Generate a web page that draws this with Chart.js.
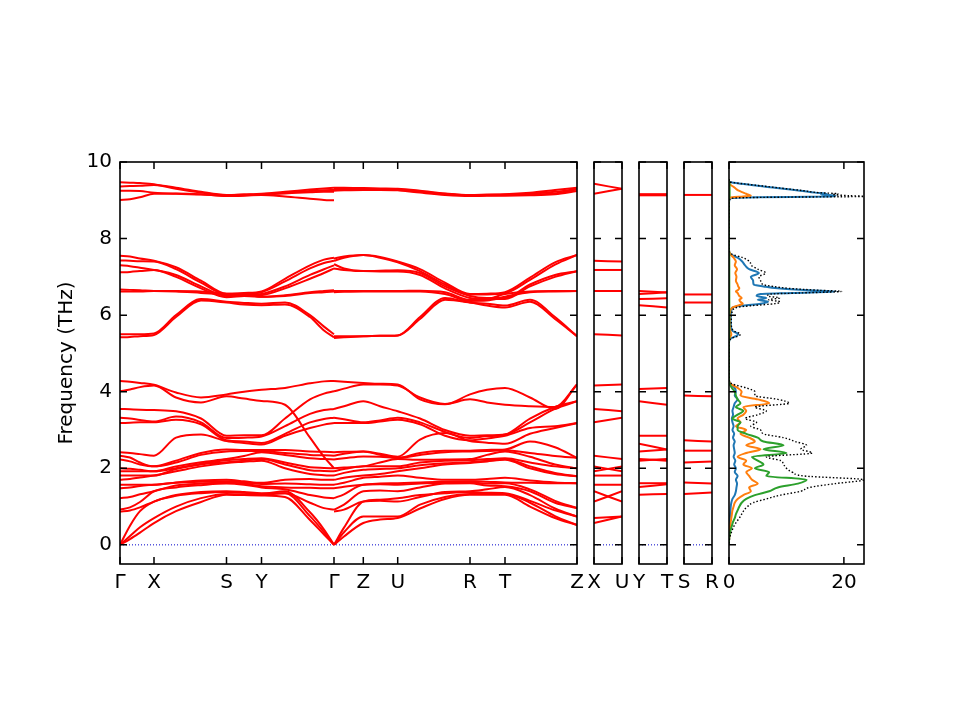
<!DOCTYPE html>
<html>
<head>
<meta charset="utf-8">
<script src="https://cdn.jsdelivr.net/npm/chart.js@4.4.1/dist/chart.umd.min.js"></script>
<style>
  html, body { margin: 0; padding: 0; background: #fff; }
  #wrap { position: relative; width: 960px; height: 720px; }
  #wrap canvas { position: absolute; left: 0; top: 0; }
</style>
</head>
<body>
<div id="wrap">
  <canvas id="bands" width="960" height="720"></canvas>
  <canvas id="xu" width="960" height="720"></canvas>
  <canvas id="yt" width="960" height="720"></canvas>
  <canvas id="sr" width="960" height="720"></canvas>
  <canvas id="dos" width="960" height="720"></canvas>
</div>
<script>
// ---- data ----
const freqTicks = [0, 2, 4, 6, 8, 10];
const kLabels = ['Γ', 'X', 'S', 'Y', 'Γ', 'Z', 'U', 'R', 'T', 'Z'];
const kPos = [0, 0.34, 1.065, 1.415, 2.14, 2.433, 2.777, 3.50, 3.85, 4.57];

// path distance samples, Γ-X-S-Y-Γ and Γ-Z-U-R-T-Z
const pathA = [0, 0.10, 0.20, 0.34, 0.56, 0.81, 1.065, 1.24, 1.415, 1.65, 1.90, 2.04, 2.14];
const pathB = [2.14, 2.24, 2.433, 2.60, 2.777, 3.00, 3.25, 3.50, 3.67, 3.85, 4.10, 4.35, 4.57];

const bandsA = [
  [9.47, 9.46, 9.45, 9.42, 9.30, 9.20, 9.13, 9.15, 9.17, 9.22, 9.28, 9.31, 9.33],
  [9.36, 9.37, 9.38, 9.40, 9.33, 9.22, 9.14, 9.15, 9.16, 9.20, 9.24, 9.26, 9.27],
  [9.25, 9.25, 9.24, 9.20, 9.17, 9.15, 9.12, 9.13, 9.15, 9.18, 9.21, 9.22, 9.22],
  [9.01, 9.03, 9.08, 9.17, 9.18, 9.16, 9.11, 9.12, 9.14, 9.10, 9.04, 9.01, 9.00],
  [7.55, 7.53, 7.48, 7.42, 7.25, 6.90, 6.56, 6.58, 6.62, 6.95, 7.30, 7.45, 7.50],
  [7.43, 7.42, 7.41, 7.40, 7.20, 6.85, 6.54, 6.56, 6.60, 6.88, 7.22, 7.36, 7.42],
  [7.30, 7.28, 7.24, 7.18, 7.05, 6.75, 6.50, 6.52, 6.55, 6.75, 7.05, 7.20, 7.30],
  [7.12, 7.13, 7.15, 7.18, 7.00, 6.70, 6.47, 6.50, 6.52, 6.70, 6.95, 7.10, 7.22],
  [6.67, 6.66, 6.65, 6.63, 6.63, 6.62, 6.56, 6.55, 6.48, 6.52, 6.60, 6.63, 6.65],
  [6.62, 6.62, 6.62, 6.63, 6.62, 6.58, 6.54, 6.50, 6.48, 6.50, 6.58, 6.60, 6.62],
  [5.50, 5.50, 5.50, 5.52, 6.00, 6.42, 6.35, 6.32, 6.30, 6.33, 6.00, 5.70, 5.50],
  [5.42, 5.43, 5.45, 5.48, 5.95, 6.38, 6.33, 6.28, 6.26, 6.28, 5.95, 5.60, 5.42],
  [0.00, 0.15, 0.32, 0.57, 0.88, 1.12, 1.31, 1.30, 1.29, 1.25, 0.65, 0.27, 0.00],
  [0.00, 0.23, 0.46, 0.70, 1.00, 1.22, 1.33, 1.32, 1.31, 1.35, 0.75, 0.33, 0.00],
  [0.00, 0.50, 0.88, 1.13, 1.28, 1.35, 1.38, 1.36, 1.33, 1.40, 0.85, 0.40, 0.00],
  [0.87, 0.90, 0.98, 1.13, 1.30, 1.38, 1.40, 1.38, 1.35, 1.35, 1.10, 0.96, 0.92],
  [0.92, 0.98, 1.12, 1.40, 1.50, 1.56, 1.60, 1.57, 1.50, 1.45, 1.30, 1.24, 1.22],
  [1.22, 1.25, 1.32, 1.40, 1.55, 1.60, 1.63, 1.60, 1.53, 1.50, 1.49, 1.48, 1.48],
  [1.48, 1.50, 1.54, 1.57, 1.62, 1.65, 1.66, 1.63, 1.59, 1.60, 1.58, 1.57, 1.57],
  [1.57, 1.57, 1.57, 1.57, 1.63, 1.68, 1.70, 1.66, 1.62, 1.70, 1.72, 1.70, 1.70],
  [1.70, 1.72, 1.76, 1.81, 1.92, 2.05, 2.14, 2.17, 2.20, 2.00, 1.85, 1.82, 1.81],
  [1.81, 1.81, 1.81, 1.81, 1.98, 2.10, 2.16, 2.20, 2.24, 2.10, 1.95, 1.93, 1.92],
  [1.92, 1.92, 1.92, 1.92, 2.00, 2.12, 2.21, 2.24, 2.26, 2.15, 2.03, 2.01, 2.00],
  [2.00, 1.99, 1.96, 1.92, 2.05, 2.16, 2.24, 2.32, 2.42, 2.35, 2.26, 2.24, 2.23],
  [2.23, 2.18, 2.10, 2.05, 2.15, 2.35, 2.44, 2.45, 2.45, 2.40, 2.35, 2.34, 2.33],
  [2.33, 2.28, 2.15, 2.05, 2.20, 2.40, 2.49, 2.48, 2.48, 2.48, 2.44, 2.43, 2.42],
  [2.42, 2.40, 2.37, 2.33, 2.80, 2.88, 2.71, 2.66, 2.62, 2.85, 3.05, 3.14, 3.18],
  [3.18, 3.19, 3.20, 3.20, 3.27, 3.15, 2.73, 2.70, 2.66, 2.90, 3.20, 3.29, 3.32],
  [3.32, 3.30, 3.26, 3.22, 3.35, 3.20, 2.79, 2.80, 2.83, 3.10, 3.42, 3.52, 3.55],
  [3.55, 3.54, 3.53, 3.52, 3.49, 3.30, 2.85, 2.86, 2.86, 3.30, 3.80, 3.95, 4.01],
  [4.01, 4.06, 4.12, 4.16, 3.85, 3.72, 3.88, 3.82, 3.76, 3.66, 2.80, 2.30, 2.00],
  [4.28, 4.26, 4.23, 4.18, 3.98, 3.85, 3.93, 4.00, 4.05, 4.10, 4.22, 4.27, 4.28]
];

const bandsB = [
  [9.33, 9.33, 9.32, 9.31, 9.30, 9.25, 9.18, 9.14, 9.15, 9.16, 9.20, 9.27, 9.33],
  [9.30, 9.30, 9.30, 9.29, 9.28, 9.23, 9.17, 9.13, 9.14, 9.15, 9.17, 9.22, 9.30],
  [9.27, 9.28, 9.28, 9.28, 9.27, 9.22, 9.16, 9.12, 9.13, 9.14, 9.15, 9.18, 9.28],
  [9.25, 9.26, 9.27, 9.27, 9.26, 9.20, 9.14, 9.11, 9.12, 9.12, 9.13, 9.16, 9.24],
  [7.48, 7.53, 7.57, 7.52, 7.40, 7.20, 6.85, 6.55, 6.56, 6.60, 6.98, 7.38, 7.57],
  [7.42, 7.50, 7.57, 7.50, 7.38, 7.15, 6.80, 6.54, 6.54, 6.57, 6.92, 7.32, 7.57],
  [7.33, 7.22, 7.15, 7.16, 7.17, 7.10, 6.75, 6.50, 6.45, 6.45, 6.80, 7.05, 7.15],
  [7.22, 7.18, 7.15, 7.14, 7.14, 7.05, 6.70, 6.45, 6.42, 6.42, 6.75, 7.00, 7.15],
  [6.63, 6.63, 6.63, 6.63, 6.63, 6.64, 6.60, 6.40, 6.42, 6.55, 6.62, 6.63, 6.63],
  [6.60, 6.61, 6.62, 6.62, 6.62, 6.62, 6.55, 6.37, 6.38, 6.48, 6.60, 6.62, 6.63],
  [5.45, 5.45, 5.45, 5.46, 5.47, 5.95, 6.45, 6.33, 6.30, 6.25, 6.40, 5.95, 5.45],
  [5.40, 5.42, 5.45, 5.46, 5.47, 5.90, 6.40, 6.33, 6.25, 6.20, 6.35, 5.90, 5.45],
  [0.00, 0.22, 0.57, 0.66, 0.70, 0.95, 1.20, 1.31, 1.31, 1.31, 1.00, 0.70, 0.52],
  [0.00, 0.33, 0.74, 0.74, 0.74, 1.05, 1.25, 1.33, 1.33, 1.33, 1.10, 0.75, 0.52],
  [0.00, 0.45, 1.13, 1.18, 1.22, 1.30, 1.35, 1.38, 1.36, 1.35, 1.15, 0.90, 0.74],
  [0.87, 0.92, 1.13, 1.15, 1.13, 1.25, 1.38, 1.40, 1.45, 1.51, 1.30, 0.95, 0.74],
  [0.92, 1.05, 1.40, 1.42, 1.40, 1.50, 1.60, 1.61, 1.55, 1.53, 1.40, 1.10, 0.96],
  [1.22, 1.32, 1.57, 1.58, 1.57, 1.60, 1.62, 1.63, 1.60, 1.61, 1.45, 1.15, 0.96],
  [1.48, 1.52, 1.57, 1.60, 1.61, 1.63, 1.65, 1.66, 1.65, 1.63, 1.62, 1.61, 1.61],
  [1.57, 1.62, 1.75, 1.78, 1.81, 1.75, 1.70, 1.70, 1.72, 1.75, 1.68, 1.63, 1.61],
  [1.70, 1.75, 1.81, 1.85, 1.92, 2.00, 2.10, 2.14, 2.18, 2.22, 2.00, 1.85, 1.79],
  [1.81, 1.88, 1.96, 1.98, 2.00, 2.08, 2.13, 2.16, 2.20, 2.24, 2.05, 1.88, 1.79],
  [1.92, 1.98, 2.05, 2.05, 2.05, 2.15, 2.20, 2.21, 2.24, 2.26, 2.15, 2.05, 2.00],
  [2.00, 2.02, 2.05, 2.15, 2.24, 2.22, 2.23, 2.24, 2.35, 2.44, 2.30, 2.10, 2.00],
  [2.23, 2.26, 2.31, 2.30, 2.27, 2.35, 2.42, 2.44, 2.45, 2.47, 2.40, 2.32, 2.27],
  [2.33, 2.38, 2.44, 2.35, 2.27, 2.40, 2.46, 2.46, 2.48, 2.49, 2.70, 2.55, 2.27],
  [2.42, 2.43, 2.44, 2.38, 2.30, 2.75, 2.92, 2.71, 2.67, 2.64, 2.90, 3.05, 3.18],
  [3.18, 3.18, 3.18, 3.22, 3.27, 3.15, 2.85, 2.73, 2.78, 2.85, 3.05, 3.10, 3.18],
  [3.32, 3.28, 3.20, 3.25, 3.32, 3.20, 2.95, 2.79, 2.84, 2.88, 3.30, 3.60, 3.75],
  [3.55, 3.62, 3.75, 3.62, 3.49, 3.30, 3.00, 2.85, 2.86, 2.88, 3.20, 3.55, 3.75],
  [4.01, 4.08, 4.19, 4.19, 4.16, 3.85, 3.68, 3.80, 3.72, 3.66, 3.62, 3.60, 4.19],
  [4.28, 4.26, 4.23, 4.21, 4.19, 3.80, 3.67, 3.93, 4.05, 4.10, 3.85, 3.55, 4.19]
];

// short segments: [start, end] frequency
const bandsXU = [
  [9.43, 9.30], [9.17, 9.30], [7.42, 7.40], [7.18, 7.18], [6.63, 6.63], [5.50, 5.47],
  [4.16, 4.19], [3.55, 3.49], [3.20, 3.32], [2.33, 2.24], [2.05, 1.92], [1.92, 2.05],
  [1.81, 1.81], [1.57, 1.57], [1.40, 1.13], [1.13, 1.40], [0.70, 0.74], [0.57, 0.74]
];
const bandsYT = [
  [9.16, 9.16], [9.13, 9.13], [6.63, 6.59], [6.55, 6.60], [6.42, 6.44], [6.26, 6.20],
  [4.07, 4.10], [3.75, 3.66], [2.85, 2.85], [2.64, 2.49], [2.44, 2.49], [2.24, 2.20],
  [2.20, 2.24], [1.61, 1.61], [1.51, 1.58], [1.31, 1.33]
];
const bandsSR = [
  [9.14, 9.14], [6.54, 6.54], [6.33, 6.33], [3.90, 3.88], [2.73, 2.70],
  [2.46, 2.46], [2.15, 2.18], [1.63, 1.60], [1.33, 1.37]
];

// density of states
const dosFreq = [
  9.55, 9.50, 9.47, 9.43, 9.40, 9.35, 9.30, 9.25, 9.20, 9.17, 9.15, 9.12, 9.10, 9.08, 9.06, 9.03, 8.95,
  7.70, 7.60, 7.50, 7.40, 7.30, 7.20, 7.10, 7.00, 6.90, 6.80, 6.75, 6.70, 6.65, 6.62, 6.58, 6.55,
  6.50, 6.45, 6.40, 6.35, 6.30, 6.25, 6.20, 6.10, 6.00, 5.80, 5.60, 5.50, 5.45, 5.40, 5.30, 5.20,
  4.4, 4.3, 4.2, 4.1, 4.0, 3.9, 3.8, 3.7, 3.6, 3.5, 3.4, 3.3, 3.2, 3.1, 3.0, 2.9, 2.8, 2.7, 2.6, 2.5,
  2.4, 2.3, 2.2, 2.1, 2.0, 1.9, 1.8, 1.7, 1.6, 1.5, 1.4, 1.3, 1.2, 1.1, 1.0, 0.9, 0.8, 0.7, 0.6, 0.5,
  0.4, 0.3, 0.2, 0.1, 0.0
];
const dosTotal = [
  0, 0, 0.4, 2.5, 4.2, 7.2, 10, 13, 15.5, 19, 18, 21, 23.5, 8, 1, 0.2, 0,
  0, 0.4, 2.4, 3.6, 3.9, 5.0, 6.4, 5.2, 5.5, 5.9, 7.7, 10.4, 15.6, 19.6, 12.6, 7.2,
  6.7, 8.8, 6.9, 8.9, 8.0, 4.1, 1.3, 0.6, 0.4, 0.4, 0.7, 2.0, 1.5, 0.5, 0, 0,
  0, 0, 0.6, 3.0, 4.5, 4.5, 8.5, 10.5, 4.5, 6.5, 5.0, 2.8, 4.8, 3.8, 5.5, 6.0, 9.5, 11.5, 13.5, 12.5,
  14.5, 6.5, 9.0, 9.5, 10.0, 11.0, 13.0, 23.5, 18.5, 14.0, 12.5, 9.0, 6.5, 4.2, 3.2, 2.6, 2.2, 1.8, 1.3, 0.9,
  0.6, 0.35, 0.15, 0.05, 0
];
const dosPartA = [
  0, 0, 0.3, 2.2, 3.9, 6.7, 9.5, 12.4, 15, 17, 16, 18.5, 17.5, 5, 0.5, 0.1, 0,
  0, 0.2, 1.5, 2.3, 2.8, 3.5, 5.2, 3.8, 4.2, 4.3, 6.0, 8.5, 14, 18.6, 11, 5.5,
  4.8, 6.5, 5.0, 6.8, 5.5, 2.5, 0.6, 0.4, 0.3, 0.3, 0.5, 1.6, 1.2, 0.4, 0, 0,
  0, 0, 0.3, 1.0, 1.2, 1.0, 1.5, 1.0, 0.8, 0.6, 0.7, 0.5, 0.6, 0.8, 0.6, 0.9, 0.7, 1.0, 0.8, 0.9,
  1.0, 0.8, 1.1, 0.9, 1.2, 1.0, 1.5, 1.2, 1.4, 1.3, 1.2, 1.0, 0.6, 0.4, 0.3, 0.25, 0.2, 0.15, 0.1, 0.08,
  0.05, 0.03, 0.01, 0, 0
];
const dosPartB = [
  0, 0, 0, 0.1, 0.3, 0.8, 1.2, 1.7, 2.5, 3.0, 3.3, 3.8, 2.5, 0.6, 0.1, 0, 0,
  0, 0.2, 0.8, 1.2, 1.0, 1.4, 1.1, 1.3, 1.2, 1.5, 1.6, 1.8, 1.5, 1.2, 1.5, 1.6,
  1.8, 2.2, 1.8, 2.0, 2.4, 1.5, 0.6, 0.2, 0.1, 0.1, 0.2, 0.4, 0.3, 0.1, 0, 0,
  0, 0, 0.3, 1.5, 2.2, 2.0, 5.0, 7.0, 2.5, 3.0, 2.5, 1.5, 2.0, 1.2, 3.0, 2.0, 3.5, 4.5, 3.0, 5.5,
  3.0, 1.5, 3.0, 2.5, 4.0, 3.0, 3.5, 4.0, 5.0, 3.5, 3.8, 2.5, 1.5, 1.0, 0.8, 0.6, 0.5, 0.4, 0.3, 0.2,
  0.15, 0.1, 0.05, 0, 0
];
const dosPartC = [
  0, 0, 0.05, 0.1, 0.1, 0.1, 0.1, 0.1, 0.1, 0.1, 0.1, 0.1, 0.1, 0.05, 0, 0, 0,
  0, 0.05, 0.05, 0.05, 0.05, 0.05, 0.05, 0.05, 0.05, 0.05, 0.05, 0.05, 0.05, 0.05, 0.05, 0.05,
  0.05, 0.05, 0.05, 0.05, 0.05, 0.05, 0.05, 0.05, 0.05, 0.05, 0.05, 0.05, 0.05, 0.05, 0, 0,
  0, 0, 0.1, 0.5, 1.0, 1.2, 1.5, 2.0, 1.2, 2.5, 1.5, 0.6, 2.0, 1.5, 1.5, 3.0, 5.0, 6.0, 9.5, 6.0,
  10.0, 4.0, 5.0, 6.0, 4.5, 7.0, 6.5, 13.5, 12.0, 8.5, 7.0, 4.5, 3.0, 2.2, 1.8, 1.5, 1.2, 1.0, 0.7, 0.5,
  0.3, 0.15, 0.05, 0, 0
];

// ---- drawing ----
Chart.defaults.font.family = "'DejaVu Sans', sans-serif";
Chart.defaults.font.size = 20;
Chart.defaults.color = '#000';

const W = 960, H = 720;
const BAND_RED = '#ff0000';
const panelTop = 162, panelBottom = 564;

// frame and inward ticks on all four sides
const frameTicks = {
    id: 'frameTicks',
    afterDraw(chart, args, opts) {
        const { ctx, chartArea: a, scales } = chart;
        const len = 7;
        ctx.save();
        ctx.strokeStyle = '#000';
        ctx.lineWidth = 1.5;
        ctx.beginPath();
        (opts.y || []).forEach((v) => {
            const py = scales.y.getPixelForValue(v);
            ctx.moveTo(a.left, py);
            ctx.lineTo(a.left + len, py);
            ctx.moveTo(a.right, py);
            ctx.lineTo(a.right - len, py);
        });
        (opts.x || []).forEach((v) => {
            const px = scales.x.getPixelForValue(v);
            ctx.moveTo(px, a.bottom);
            ctx.lineTo(px, a.bottom - len);
            ctx.moveTo(px, a.top);
            ctx.lineTo(px, a.top + len);
        });
        ctx.stroke();
        ctx.lineWidth = 1.6;
        ctx.strokeRect(a.left, a.top, a.right - a.left, a.bottom - a.top);
        ctx.restore();
    }
};

const bandSet = (xs, bands) =>
    bands.map((b) => ({
        data: xs.map((x, i) => ({ x, y: b[i] })),
        borderColor: BAND_RED,
        borderWidth: 2,
        pointRadius: 0,
        cubicInterpolationMode: 'monotone'
    }));

const zeroLine = (x0, x1) => ({
    data: [{ x: x0, y: 0 }, { x: x1, y: 0 }],
    borderColor: '#0000cc',
    borderWidth: 1,
    borderDash: [1, 2],
    pointRadius: 0
});

function makePanel(id, area, cfg) {
    const showY = !!cfg.yLabels;
    const xScale = {
        type: 'linear',
        min: cfg.xMin,
        max: cfg.xMax,
        display: true,
        grid: { display: false, drawTicks: false },
        border: { display: false },
        afterBuildTicks: (s) => { s.ticks = cfg.xTicks.map((v) => ({ value: v })); },
        afterFit: (s) => { s.height = H - area.bottom; },
        ticks: {
            autoSkip: false,
            maxRotation: 0,
            minRotation: 0,
            padding: 7,
            callback: (v, i) => cfg.xLabels[i]
        }
    };
    const yScale = {
        type: 'linear',
        min: -0.5,
        max: 10,
        display: showY,
        grid: { display: false, drawTicks: false },
        border: { display: false },
        afterBuildTicks: (s) => { s.ticks = freqTicks.map((v) => ({ value: v })); }
    };
    if (showY) {
        yScale.afterFit = (s) => { s.width = area.left; };
        yScale.ticks = { padding: 8, callback: (v) => String(v) };
        yScale.title = { display: true, text: 'Frequency (THz)', padding: { top: 55, bottom: 0 } };
    }
    return new Chart(document.getElementById(id), {
        type: 'line',
        data: { datasets: cfg.datasets },
        options: {
            responsive: false,
            animation: false,
            events: [],
            indexAxis: cfg.indexAxis || 'x',
            layout: {
                autoPadding: false,
                padding: {
                    left: showY ? 0 : area.left,
                    top: area.top,
                    right: W - area.right,
                    bottom: 0
                }
            },
            plugins: {
                legend: { display: false },
                tooltip: { enabled: false },
                frameTicks: { x: cfg.xTicks, y: freqTicks }
            },
            scales: { x: xScale, y: yScale }
        },
        plugins: [frameTicks]
    });
}

makePanel('bands', { left: 120, top: panelTop, right: 577, bottom: panelBottom }, {
    xMin: 0, xMax: 4.57, xTicks: kPos, xLabels: kLabels, yLabels: true,
    datasets: [...bandSet(pathA, bandsA), ...bandSet(pathB, bandsB), zeroLine(0, 4.57)]
});

const shortPanel = (id, left, right, names, bands) =>
    makePanel(id, { left, top: panelTop, right, bottom: panelBottom }, {
        xMin: 0, xMax: 1, xTicks: [0, 1], xLabels: names,
        datasets: [...bandSet([0, 1], bands), zeroLine(0, 1)]
    });

shortPanel('xu', 594, 622, ['X', 'U'], bandsXU);
shortPanel('yt', 639, 667, ['Y', 'T'], bandsYT);
shortPanel('sr', 684, 712, ['S', 'R'], bandsSR);

const dosLine = (vals, color, width, dash) => ({
    data: dosFreq.map((f, i) => ({ x: vals[i], y: f })),
    borderColor: color,
    borderWidth: width,
    borderDash: dash || [],
    pointRadius: 0,
    cubicInterpolationMode: 'monotone'
});

makePanel('dos', { left: 729, top: panelTop, right: 864, bottom: panelBottom }, {
    xMin: 0, xMax: 23.5, xTicks: [0, 20], xLabels: ['0', '20'],
    indexAxis: 'y',
    datasets: [
        dosLine(dosTotal, '#000000', 1.4, [1.5, 2]),
        dosLine(dosPartC, '#2ca02c', 2),
        dosLine(dosPartB, '#ff7f0e', 2),
        dosLine(dosPartA, '#1f77b4', 2)
    ]
});
</script>
</body>
</html>
